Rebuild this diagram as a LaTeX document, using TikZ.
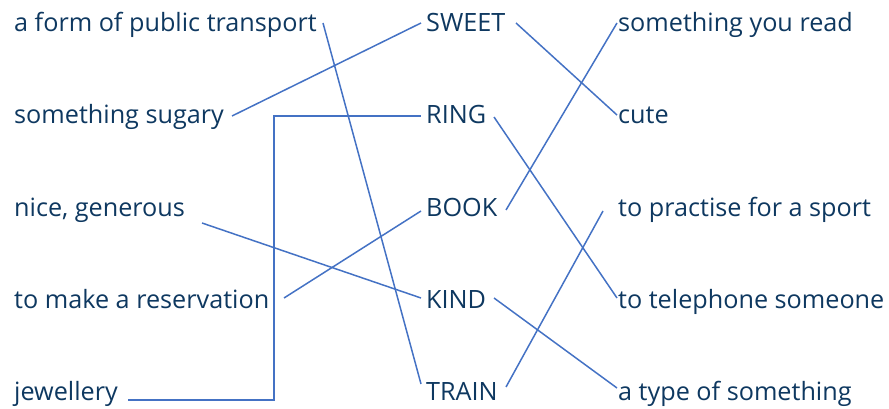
\documentclass[tikz,border=0pt]{standalone}
\usepackage{fontspec}
\setmainfont{Open Sans}
\definecolor{txt}{RGB}{14,56,96}
\definecolor{ln}{RGB}{68,114,196}
\begin{document}
\begin{tikzpicture}[x=1pt,y=-1pt,
  lbl/.style={anchor=base west,inner sep=0pt,text=txt,font=\fontsize{25.2}{28}\selectfont},
  conn/.style={draw=ln,line width=1.5pt}]
\useasboundingbox (0,0) rectangle (889,409);
% left column
\node[lbl] (a1) at (14,32) {a form of public transport};
\node[lbl] (a2) at (14,124) {something sugary};
\node[lbl] (a3) at (14,216) {nice, generous};
\node[lbl] (a4) at (14,308) {to make a reservation};
\node[lbl] (a5) at (14,400) {jewellery};
% middle column
\node[lbl] (m1) at (426,32) {SWEET};
\node[lbl] (m2) at (426,124) {RING};
\node[lbl] (m3) at (426,216) {BOOK};
\node[lbl] (m4) at (426,308) {KIND};
\node[lbl] (m5) at (426,400) {TRAIN};
% right column
\node[lbl] (r1) at (618,32) {something you read};
\node[lbl] (r2) at (618,124) {cute};
\node[lbl] (r3) at (618,216) {to practise for a sport};
\node[lbl] (r4) at (618,308) {to telephone someone};
\node[lbl] (r5) at (618,400) {a type of something};
% connector ends
\coordinate (a1e) at (323,23);
\coordinate (a2e) at (232,116);
\coordinate (a3e) at (202,223);
\coordinate (a4e) at (284,298);
\coordinate (a5e) at (128,400);
\coordinate (m1w) at (421,23);
\coordinate (m2w) at (421,116);
\coordinate (m3w) at (421,211);
\coordinate (m4w) at (421,298);
\coordinate (m5w) at (421,384);
\coordinate (m1e) at (516,23);
\coordinate (m2e) at (494,117);
\coordinate (m3e) at (506,210);
\coordinate (m4e) at (494,298);
\coordinate (m5e) at (506,387);
\coordinate (r1w) at (617,23);
\coordinate (r2w) at (617,115);
\coordinate (r3w) at (603,211);
\coordinate (r4w) at (617,298);
\coordinate (r5w) at (617,388);
\coordinate (bend1) at (274,400);
\coordinate (bend2) at (274,116);
% connectors
\draw[conn] (a1e) -- (m5w);
\draw[conn] (a2e) -- (m1w);
\draw[conn] (a3e) -- (m4w);
\draw[conn] (a4e) -- (m3w);
\draw[conn] (a5e) -- (bend1) -- (bend2) -- (m2w);
\draw[conn] (m1e) -- (r2w);
\draw[conn] (m2e) -- (r4w);
\draw[conn] (m3e) -- (r1w);
\draw[conn] (m4e) -- (r5w);
\draw[conn] (m5e) -- (r3w);
\end{tikzpicture}
\end{document}
